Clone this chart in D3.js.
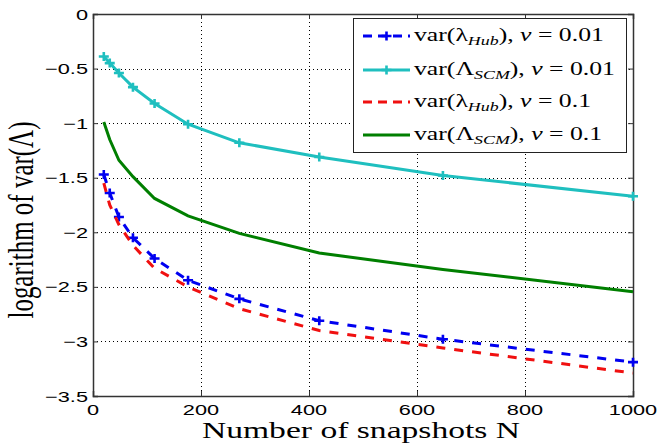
<!DOCTYPE html>
<html>
<head>
<meta charset="utf-8">
<script src="https://cdn.jsdelivr.net/npm/d3@7"></script>
<style>
  html, body { margin: 0; padding: 0; background: #fff; }
  svg { display: block; }
</style>
</head>
<body>
<svg id="chart" width="658" height="443"></svg>
<script>
// ---- data ----
const snapshots = [20, 31, 48, 74, 114, 176, 271, 419, 648, 1000];
const hubNu001 = [-1.47, -1.64, -1.86, -2.05, -2.24, -2.44, -2.61, -2.81, -2.98, -3.19];
const scmNu001 = [-0.39, -0.45, -0.54, -0.67, -0.82, -1.01, -1.18, -1.31, -1.48, -1.67];
const hubNu01  = [-1.55, -1.75, -1.93, -2.12, -2.33, -2.50, -2.70, -2.90, -3.06, -3.29];
const scmNu01  = [-0.99, -1.15, -1.34, -1.49, -1.69, -1.85, -2.01, -2.19, -2.34, -2.545];
const xTicks = [0, 200, 400, 600, 800, 1000];
const yTicks = [0, -0.5, -1, -1.5, -2, -2.5, -3, -3.5];
const xTickLabels = ["0", "200", "400", "600", "800", "1000"];
const yTickLabels = ["0", "\u22120.5", "\u22121", "\u22121.5", "\u22122", "\u22122.5", "\u22123", "\u22123.5"];

const SX = 1.43; // horizontal stretch of the original picture's text

const svg = d3.select("#chart");
const L = 93, R = 633, T = 14, B = 396;
const x = d3.scaleLinear().domain([0, 1000]).range([L, R]);
const y = d3.scaleLinear().domain([-3.5, 0]).range([B, T]);

// grid
const grid = svg.append("g").attr("stroke", "#000").attr("stroke-width", 1).attr("stroke-dasharray", "1,3");
grid.selectAll("line.v").data(xTicks.slice(1, -1)).join("line")
  .attr("x1", d => x(d) + 0.5).attr("x2", d => x(d) + 0.5).attr("y1", T).attr("y2", B);
grid.selectAll("line.h").data(yTicks.slice(1, -1)).join("line")
  .attr("y1", d => Math.round(y(d)) + 0.5).attr("y2", d => Math.round(y(d)) + 0.5).attr("x1", L).attr("x2", R);

// axes (box with inward ticks)
const axB = svg.append("g").attr("transform", `translate(0,${B})`)
  .call(d3.axisBottom(x).tickValues(xTicks).tickSize(-5).tickFormat(""));
const axT = svg.append("g").attr("transform", `translate(0,${T})`)
  .call(d3.axisTop(x).tickValues(xTicks).tickSize(-5).tickFormat(""));
const axL = svg.append("g").attr("transform", `translate(${L},0)`)
  .call(d3.axisLeft(y).tickValues(yTicks).tickSize(-5).tickFormat(""));
const axR = svg.append("g").attr("transform", `translate(${R},0)`)
  .call(d3.axisRight(y).tickValues(yTicks).tickSize(-5).tickFormat(""));
[axB, axT, axL, axR].forEach(a => {
  a.select(".domain").attr("stroke", "#333").attr("stroke-width", 1.5);
  a.selectAll(".tick line").attr("stroke", "#333").attr("stroke-width", 1);
});

function stext(g, px, py, str, anchor, size, family, sx) {
  return g.append("text")
    .attr("transform", `translate(${px},${py}) scale(${sx || SX},1)`)
    .attr("text-anchor", anchor)
    .attr("font-family", family)
    .attr("font-size", size)
    .attr("fill", "#000")
    .text(str);
}

const labels = svg.append("g");
const sans = "Liberation Sans, Arial, sans-serif";
const serif = "Liberation Serif, Times New Roman, serif";
xTicks.forEach((t, i) => stext(labels, x(t), 415, xTickLabels[i], "middle", 15, sans, 1.45));
yTicks.forEach((t, i) => stext(labels, 88, y(t) + 5.5, yTickLabels[i], "end", 15, sans, 1.45));

// axis titles
stext(labels, (L + R) / 2 - 2, 438, "Number of snapshots N", "middle", 24, serif, 1.4);
labels.append("text")
  .attr("transform", `translate(33,220) rotate(-90) scale(1,${SX})`)
  .attr("text-anchor", "middle")
  .attr("font-family", serif)
  .attr("font-size", 25)
  .text("logarithm of var(\u039B)");

// series
const series = [
  { vals: hubNu001, color: "#0000f0", dash: "9,9", marker: true, sub: "Hub", sym: "\u03BB", nu: "0.01" },
  { vals: scmNu001, color: "#1fbfbf", dash: null, marker: true, sub: "SCM", sym: "\u039B", nu: "0.01" },
  { vals: hubNu01,  color: "#f01010", dash: "9,9", marker: false, sub: "Hub", sym: "\u03BB", nu: "0.1" },
  { vals: scmNu01,  color: "#007f00", dash: null, marker: false, sub: "SCM", sym: "\u039B", nu: "0.1" }
];

const line = d3.line().x((d, i) => x(snapshots[i])).y(d => y(d));
const plusPath = (cx, cy) => `M${cx - 5},${cy}H${cx + 5}M${cx},${cy - 4.5}V${cy + 4.5}`;

series.forEach(s => {
  svg.append("path").datum(s.vals)
    .attr("d", line)
    .attr("fill", "none")
    .attr("stroke", s.color)
    .attr("stroke-width", 3)
    .attr("stroke-dasharray", s.dash);
  if (s.marker) {
    svg.append("g").selectAll("path").data(s.vals).join("path")
      .attr("d", (d, i) => plusPath(x(snapshots[i]), y(d)))
      .attr("stroke", s.color).attr("stroke-width", 2.6).attr("fill", "none");
  }
});

// legend
const lg = svg.append("g");
lg.append("rect").attr("x", 353.5).attr("y", 18.5).attr("width", 273).attr("height", 134)
  .attr("fill", "#fff").attr("stroke", "#222").attr("stroke-width", 1);
const ly = [36, 70, 102, 135];
series.forEach((s, i) => {
  const yy = ly[i];
  lg.append("line").attr("x1", 363).attr("x2", 410).attr("y1", yy).attr("y2", yy)
    .attr("stroke", s.color).attr("stroke-width", 3)
    .attr("stroke-dasharray", s.dash ? "9,6" : null);
  if (s.marker) {
    lg.append("path").attr("d", plusPath(386.5, yy)).attr("stroke", s.color).attr("stroke-width", 2.6);
  }
  const t = lg.append("text")
    .attr("transform", `translate(414,${yy + 5}) scale(${SX},1)`)
    .attr("font-family", serif)
    .attr("font-size", 18)
    .attr("fill", "#000");
  t.append("tspan").text("var(" + s.sym);
  t.append("tspan").attr("font-size", 12.5).attr("font-style", "italic").attr("dy", 4).text(s.sub);
  t.append("tspan").attr("dy", -4).text("), ");
  t.append("tspan").attr("font-style", "italic").text("\u03BD");
  t.append("tspan").text(" = " + s.nu);
});
</script>
</body>
</html>
